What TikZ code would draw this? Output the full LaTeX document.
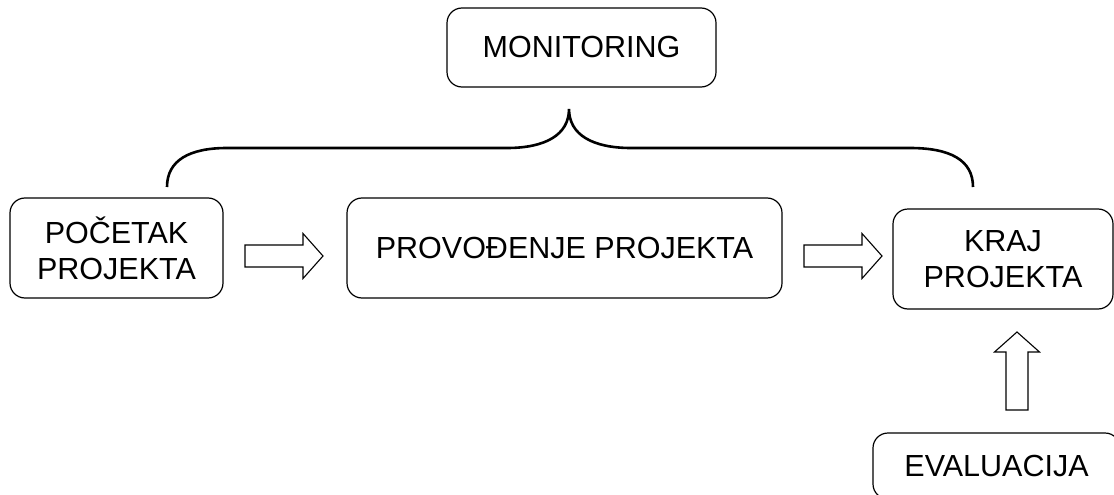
\documentclass[tikz,border=0pt]{standalone}
\usepackage{fontspec}
\setmainfont{Liberation Sans}
\begin{document}
\begin{tikzpicture}[x=1pt,y=-1pt,
  box/.style={draw, line width=1.2pt, rounded corners=15pt, align=center,
    inner sep=0pt, font=\fontsize{30.5}{36}\selectfont},
  brace/.style={line width=2.6pt},
  harrow/.pic={\draw[line width=1.1pt] (0,-11) -- (58,-11) -- (58,-22.5) -- (78,0) -- (58,22.5) -- (58,11) -- (0,11) -- cycle;}
]
\useasboundingbox (0,0) rectangle (1114,495);
\clip (0,0) rectangle (1114,495);
\node[box, minimum width=269pt, minimum height=79pt] (mon) at (581.5,47.5) {MONITORING};
\node[box, minimum width=213pt, minimum height=100pt] (poc) at (116.5,248) {POČETAK\\PROJEKTA};
\node[box, minimum width=435pt, minimum height=100pt] (prov) at (564.5,248) {PROVOĐENJE PROJEKTA};
\node[box, minimum width=220pt, minimum height=100pt] (kraj) at (1003,259) {KRAJ\\PROJEKTA};
\node[box, minimum width=247pt, minimum height=66pt] (eval) at (996.5,466) {EVALUACIJA};
\coordinate (bl) at (167,187);
\coordinate (br) at (973,187);
\coordinate (bc) at (569,109);
\draw[brace] (bl) .. controls (167,160) and (190,148) .. (227,148) -- (507,148)
  .. controls (545,148) and (569,135) .. (bc)
  .. controls (569,135) and (593,148) .. (631,148) -- (910,148)
  .. controls (950,148) and (973,160) .. (br);
\pic at (245,256) {harrow};
\pic at (804,256) {harrow};
\pic[rotate=90] at (1017,410) {harrow};
\end{tikzpicture}
\end{document}
